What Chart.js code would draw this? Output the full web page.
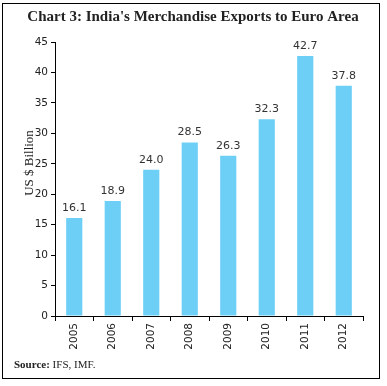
<!DOCTYPE html>
<html><head><meta charset="utf-8">
<script src="https://cdn.jsdelivr.net/npm/chart.js@4.4.0/dist/chart.umd.min.js"></script>
<style>
html,body{margin:0;padding:0;background:#fff;}
#wrap{position:absolute;left:0;top:0;width:387px;height:386px;}
#frame{position:absolute;left:2px;top:3px;width:378px;height:376px;border:1px solid #000;box-sizing:border-box;pointer-events:none;}
</style></head>
<body>
<div id="wrap"><canvas id="c" width="387" height="386"></canvas><div id="frame"></div></div>
<script>
const categories = ['2005','2006','2007','2008','2009','2010','2011','2012'];
const exportsValues = [16.1, 18.9, 24.0, 28.5, 26.3, 32.3, 42.7, 37.8];
const yTicks = [0,5,10,15,20,25,30,35,40,45];
const titleText = "Chart 3: India's Merchandise Exports to Euro Area";
const yTitle = 'US $ Billion';
const sourceText = ' IFS, IMF.';

const decor = {
  id:'decor',
  afterDatasetsDraw(chart){
    const ctx = chart.ctx;
    ctx.save();
    ctx.fillStyle = '#222';
    ctx.font = 'bold 15px "Liberation Serif", "DejaVu Serif", serif';
    ctx.textAlign = 'center'; ctx.textBaseline = 'middle';
    ctx.fillText(titleText, 193, 17);
    ctx.save();
    ctx.translate(30, 163);
    ctx.rotate(-Math.PI/2);
    ctx.font = '13px "Liberation Serif", serif';
    ctx.fillStyle = '#222';
    ctx.fillText(yTitle, 0, 0);
    ctx.restore();
    ctx.textAlign = 'left';
    ctx.font = 'bold 11px "Liberation Serif", serif';
    ctx.fillStyle = '#222';
    ctx.fillText('Source:', 14, 365);
    const w = ctx.measureText('Source:').width;
    ctx.font = '11px "Liberation Serif", serif';
    ctx.fillText(sourceText, 14 + w, 365);
    const meta = chart.getDatasetMeta(0);
    ctx.font = '11px "DejaVu Sans", sans-serif';
    ctx.textAlign = 'center'; ctx.textBaseline = 'middle';
    ctx.fillStyle = '#333';
    meta.data.forEach((bar, i) => {
      ctx.fillText(exportsValues[i].toFixed(1), bar.x, bar.y - 10);
    });
    ctx.restore();
  }
};

new Chart(document.getElementById('c'), {
  type:'bar',
  data:{labels:categories, datasets:[{data:exportsValues, backgroundColor:'#6ECFF6', barPercentage:0.42, categoryPercentage:1.0}]},
  options:{
    responsive:false, animation:false,
    layout:{padding:{left:0,right:24,top:42,bottom:0}},
    plugins:{legend:{display:false}, tooltip:{enabled:false}, title:{display:false}},
    scales:{
      x:{
        grid:{display:true, drawOnChartArea:false, offset:true, color:'#000', tickLength:5},
        border:{display:true, color:'#000', width:1},
        ticks:{color:'#222', font:{family:'"DejaVu Sans", sans-serif', size:10.5}, minRotation:90, maxRotation:90, padding:2},
        afterFit(s){ s.height = 70; }
      },
      y:{
        min:0, max:45,
        afterBuildTicks(s){ s.ticks = yTicks.map(v=>({value:v})); },
        grid:{display:true, drawOnChartArea:false, color:'#000', tickLength:4},
        border:{display:true, color:'#000', width:1},
        ticks:{color:'#222', font:{family:'"DejaVu Sans", sans-serif', size:10.5}, padding:3},
        afterFit(s){ s.width = 55; }
      }
    }
  },
  plugins:[decor]
});
</script>
</body></html>
